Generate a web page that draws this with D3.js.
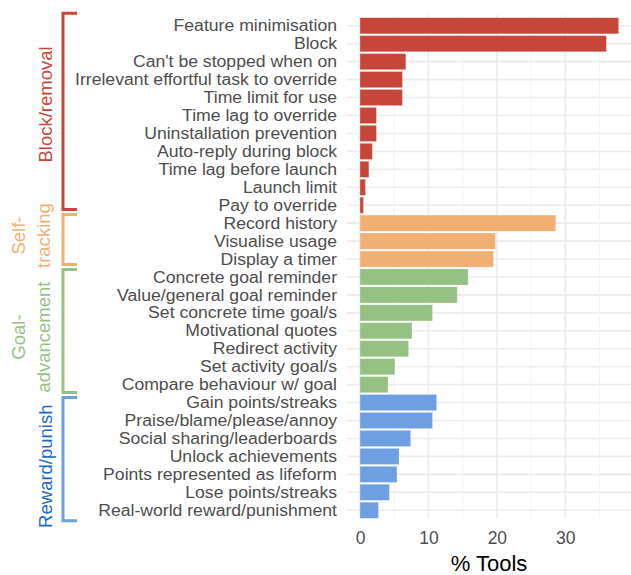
<!DOCTYPE html>
<html lang="en">
<head>
  <meta charset="utf-8">
  <title>% Tools by strategy</title>
  <style>
    body { margin: 0; background: #fff; }
    text { font-family: "Liberation Sans", Arial, sans-serif; }
  </style>
</head>
<body>
  <script src="https://cdn.jsdelivr.net/npm/d3@7/dist/d3.min.js"></script>
  <script>

      // data
      var groups = ["Block/removal", "Self-tracking", "Goal-advancement", "Reward/punish"];
      var groupLines = [["Block/removal"], ["Self-", "tracking"], ["Goal-", "advancement"], ["Reward/punish"]];

      var blockCats = ["Feature minimisation", "Block", "Can't be stopped when on",
        "Irrelevant effortful task to override", "Time limit for use", "Time lag to override",
        "Uninstallation prevention", "Auto-reply during block", "Time lag before launch",
        "Launch limit", "Pay to override"];
      var blockVals = [37.8, 36.0, 6.7, 6.2, 6.2, 2.4, 2.4, 1.8, 1.3, 0.8, 0.5];

      var selfCats = ["Record history", "Visualise usage", "Display a timer"];
      var selfVals = [28.6, 19.8, 19.5];

      var goalCats = ["Concrete goal reminder", "Value/general goal reminder", "Set concrete time goal/s",
        "Motivational quotes", "Redirect activity", "Set activity goal/s", "Compare behaviour w/ goal"];
      var goalVals = [15.8, 14.2, 10.6, 7.6, 7.1, 5.1, 4.1];

      var rewardCats = ["Gain points/streaks", "Praise/blame/please/annoy", "Social sharing/leaderboards",
        "Unlock achievements", "Points represented as lifeform", "Lose points/streaks",
        "Real-world reward/punishment"];
      var rewardVals = [11.2, 10.6, 7.4, 5.7, 5.4, 4.3, 2.7];

      var xTicks = [0, 10, 20, 30];
      var xMinor = [5, 15, 25, 35];

      // styling
      var barColors = ["#C8453A", "#F2AF74", "#95C283", "#6E9FE2"];
      var labelColors = ["#C8453A", "#F2AF74", "#95C283", "#1B6AC9"];
      var labelShift = [-7, -4, 6, 7];

      var w = 631;
      var h = 575;
      var pl = 347, pr = 631, pt = 15, pb = 521;

      var catLists = [blockCats, selfCats, goalCats, rewardCats];
      var valLists = [blockVals, selfVals, goalVals, rewardVals];

      var rows = [];
      catLists.forEach(function(cats, g){
        cats.forEach(function(c, i){
          rows.push({cat: c, val: valLists[g][i], group: g});
        });
      });

      var svg = d3.select("body").append("svg").attr("width", w).attr("height", h);

      var x = d3.scaleLinear().domain([-1.9, 39.6]).range([pl, pr]);
      var y = d3.scalePoint().domain(rows.map(function(d){ return d.cat; }))
        .range([pt, pb]).padding(0.6);
      var bh = y.step() * 0.9;

      // grid
      svg.selectAll(".hgrid").data(rows).enter().append("line")
        .attr("x1", pl).attr("x2", pr)
        .attr("y1", function(d){ return y(d.cat); })
        .attr("y2", function(d){ return y(d.cat); })
        .attr("stroke", "#ebebeb").attr("stroke-width", 1.6);

      svg.selectAll(".vminor").data(xMinor).enter().append("line")
        .attr("x1", function(d){ return x(d); }).attr("x2", function(d){ return x(d); })
        .attr("y1", pt).attr("y2", pb - 3)
        .attr("stroke", "#f0f0f0").attr("stroke-width", 0.9);

      svg.selectAll(".vmajor").data(xTicks).enter().append("line")
        .attr("x1", function(d){ return x(d); }).attr("x2", function(d){ return x(d); })
        .attr("y1", pt).attr("y2", pb - 3)
        .attr("stroke", "#ebebeb").attr("stroke-width", 1.6);

      // bars
      svg.selectAll("rect.bar").data(rows).enter().append("rect")
        .attr("class", "bar")
        .attr("x", x(0))
        .attr("y", function(d){ return y(d.cat) - bh / 2; })
        .attr("width", function(d){ return x(d.val) - x(0); })
        .attr("height", bh)
        .attr("fill", function(d){ return barColors[d.group]; })
        .attr("stroke", "#fff").attr("stroke-opacity", 0.5).attr("stroke-width", 0.5);

      // category labels (glyphs in the reference are a little wide for their height)
      svg.selectAll("text.cat").data(rows).enter().append("text")
        .attr("class", "cat")
        .attr("transform", function(d){ return "translate(337," + y(d.cat) + ") scale(1.13,1)"; })
        .attr("dy", "0.36em")
        .attr("text-anchor", "end")
        .attr("font-size", 15.6)
        .attr("fill", "#4d4d4d")
        .text(function(d){ return d.cat; });

      // x axis
      var xAxis = d3.axisBottom(x).tickValues(xTicks).tickSize(0).tickPadding(11);
      var ax = svg.append("g").attr("transform", "translate(0," + pb + ")").call(xAxis);
      ax.select(".domain").remove();
      ax.selectAll("text").attr("font-size", 17.5).attr("fill", "#4d4d4d")
        .attr("font-family", "Liberation Sans, Arial, sans-serif");

      svg.append("text")
        .attr("x", (pl + pr) / 2).attr("y", 571)
        .attr("text-anchor", "middle")
        .attr("font-size", 22).attr("fill", "#000")
        .text("% Tools");

      // group brackets
      var start = 0;
      var bounds = catLists.map(function(c){ var b = [start, start + c.length]; start += c.length; return b; });
      var by = d3.scaleLinear().domain([0, rows.length])
        .range([y(rows[0].cat) - 15, y(rows[rows.length - 1].cat) + 13]);

      bounds.forEach(function(b, g){
        var y0 = by(b[0]) + 2.5, y1 = by(b[1]) - 2.5;
        svg.append("path")
          .attr("d", "M77," + y0 + "H63V" + y1 + "H77")
          .attr("fill", "none")
          .attr("stroke", barColors[g])
          .attr("stroke-width", 3);

        var cy = (y0 + y1) / 2 + labelShift[g];
        var lines = groupLines[g];
        var t = svg.append("text")
          .attr("transform", "translate(" + (lines.length > 1 ? 30.5 : 45) + "," + cy + ") rotate(-90)")
          .attr("text-anchor", "middle")
          .attr("font-size", 18.5)
          .attr("fill", labelColors[g]);
        lines.forEach(function(l, i){
          t.append("tspan")
            .attr("x", 0)
            .attr("dy", i == 0 ? (0.36 - (lines.length - 1) * 0.68) + "em" : "1.36em")
            .text(l);
        });
      });

  </script>
</body>
</html>
